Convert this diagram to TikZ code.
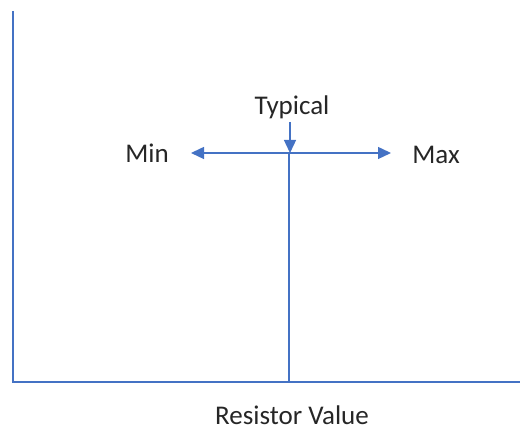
\documentclass[tikz,border=0pt]{standalone}
\usepackage{fontspec}
\setmainfont{Carlito}
\usetikzlibrary{arrows.meta}
\definecolor{axisblue}{RGB}{68,114,196}

\begin{document}
\begin{tikzpicture}[x=1pt,y=1pt,
   axis/.style={axisblue,line width=1.4pt},
   tip/.style={axisblue,line width=1.4pt,-{Triangle[length=13pt,width=12pt]}},
   lbl/.style={font=\fontsize{27}{32}\selectfont,text=black!85,inner sep=1pt}]
   \useasboundingbox (0,0) rectangle (520,430);
 %
   \coordinate (top)    at ( 13,419);
   \coordinate (orig)   at ( 13, 48);
   \coordinate (right)  at (520, 48);
   \coordinate (base)   at (289, 48);
   \coordinate (mid)    at (289,277);
   \coordinate (lend)   at (191,277);
   \coordinate (rend)   at (391,277);
   \coordinate (tstart) at (290,308);
   \coordinate (tend)   at (290,277);
 %
   \draw[axis] (top) -- (orig) -- (right);
   \draw[axis] (base) -- (mid);
   \draw[tip]  (mid) -- (lend);
   \draw[tip]  (mid) -- (rend);
   \draw[tip]  (tstart) -- (tend);
 %
   \node[lbl] (typ) at (292,323) {Typical};
   \node[lbl] (min) at (147,277) {Min};
   \node[lbl] (max) at (436,275) {Max};
   \node[lbl] (res) at (292, 15) {Resistor Value};
\end{tikzpicture}
\end{document}
